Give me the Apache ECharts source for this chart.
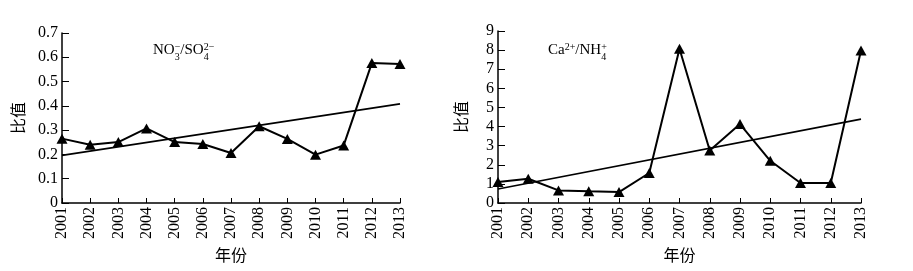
<!DOCTYPE html>
<html>
<head>
<meta charset="utf-8">
<script src="https://cdn.jsdelivr.net/npm/echarts@6/dist/echarts.min.js"></script>
<style>
  html, body { margin: 0; background: #fff; }
  #chart { width: 913px; height: 271px; }
</style>
</head>
<body>
<div id="chart"></div>
<script>
// data
const years = ['2001', '2002', '2003', '2004', '2005', '2006', '2007',
  '2008', '2009', '2010', '2011', '2012', '2013'];
const no3so4 = [0.265, 0.240, 0.251, 0.307, 0.251, 0.243, 0.206,
  0.316, 0.264, 0.199, 0.237, 0.576, 0.572];
const no3so4Trend = [0.196, 0.408]; // fit line at 2001 and 2013
const canh4 = [1.10, 1.27, 0.66, 0.61, 0.57, 1.57, 8.07,
  2.75, 4.13, 2.21, 1.05, 1.05, 7.98];
const canh4Trend = [0.73, 4.39];

const serif = '"Liberation Serif", "Times New Roman", serif';
const cjk = '"Noto Sans CJK SC", sans-serif';

let myChart = echarts.init(document.getElementById('chart'));

// endpoints only, the line is drawn between them
function trendData(ends) {
  return years.map((y, i) => (i === 0 ? ends[0] : i === years.length - 1 ? ends[1] : null));
}

// chemical formula label built from pieces: {t, sub, sup}
function formula(parts, x, y) {
  const ctx = document.createElement('canvas').getContext('2d');
  const els = [];
  let cx = x;
  parts.forEach((p) => {
    if (p.t) {
      ctx.font = '15px ' + serif;
      els.push({ type: 'text', x: cx, y: y, style: { text: p.t, font: '15px ' + serif, fill: '#000', textVerticalAlign: 'bottom' } });
      cx += ctx.measureText(p.t).width;
    }
    let w = 0;
    ctx.font = '10px ' + serif;
    if (p.sub) {
      els.push({ type: 'text', x: cx, y: y + 4, style: { text: p.sub, font: '10px ' + serif, fill: '#000', textVerticalAlign: 'bottom' } });
      w = Math.max(w, ctx.measureText(p.sub).width);
    }
    if (p.sup) {
      els.push({ type: 'text', x: cx, y: y - 6, style: { text: p.sup, font: '10px ' + serif, fill: '#000', textVerticalAlign: 'bottom' } });
      w = Math.max(w, ctx.measureText(p.sup).width);
    }
    cx += w;
  });
  return els;
}

function xAxisFor(idx) {
  return {
    type: 'category',
    gridIndex: idx,
    data: years,
    boundaryGap: false,
    name: '年份',
    nameLocation: 'middle',
    nameGap: 41,
    nameTextStyle: { fontFamily: cjk, fontSize: 16, color: '#000' },
    axisLine: { lineStyle: { color: '#000', width: 1.5 } },
    axisTick: { inside: true, length: 5, alignWithLabel: true, lineStyle: { color: '#000' } },
    axisLabel: { rotate: 90, margin: 4, interval: 0, fontFamily: serif, fontSize: 16, color: '#000' },
    splitLine: { show: false },
  };
}

function yAxisFor(idx, max, interval, gap) {
  return {
    type: 'value',
    gridIndex: idx,
    min: 0,
    max: max,
    interval: interval,
    name: '比值',
    nameLocation: 'middle',
    nameRotate: 90,
    nameGap: gap,
    nameTextStyle: { fontFamily: cjk, fontSize: 16, color: '#000' },
    axisLine: { show: true, lineStyle: { color: '#000', width: 1.5 } },
    axisTick: { show: true, inside: true, length: 7, lineStyle: { color: '#000' } },
    axisLabel: { margin: 4, fontFamily: serif, fontSize: 16, color: '#000' },
    splitLine: { show: false },
  };
}

function dataSeries(idx, values) {
  return {
    type: 'line',
    xAxisIndex: idx,
    yAxisIndex: idx,
    data: values,
    symbol: 'triangle',
    symbolSize: [11, 10],
    itemStyle: { color: '#000' },
    lineStyle: { color: '#000', width: 2 },
    z: 3,
  };
}

function trendSeries(idx, ends) {
  return {
    type: 'line',
    xAxisIndex: idx,
    yAxisIndex: idx,
    data: trendData(ends),
    connectNulls: true,
    showSymbol: false,
    symbol: 'none',
    lineStyle: { color: '#000', width: 1.6 },
    z: 2,
  };
}

var option = {
  animation: false,
  backgroundColor: '#fff',
  grid: [
    { left: 62, right: 513, top: 33, bottom: 68 },
    { left: 498, right: 52, top: 31, bottom: 68 },
  ],
  xAxis: [xAxisFor(0), xAxisFor(1)],
  yAxis: [yAxisFor(0, 0.7, 0.1, 36), yAxisFor(1, 9, 1, 29)],
  series: [
    trendSeries(0, no3so4Trend),
    dataSeries(0, no3so4),
    trendSeries(1, canh4Trend),
    dataSeries(1, canh4),
  ],
  graphic: [
    ...formula([{ t: 'NO', sub: '3', sup: '−' }, { t: '/SO', sub: '4', sup: '2−' }], 153, 58),
    ...formula([{ t: 'Ca', sup: '2+' }, { t: '/NH', sub: '4', sup: '+' }], 548, 58),
  ],
};

myChart.setOption(option);
</script>
</body>
</html>
